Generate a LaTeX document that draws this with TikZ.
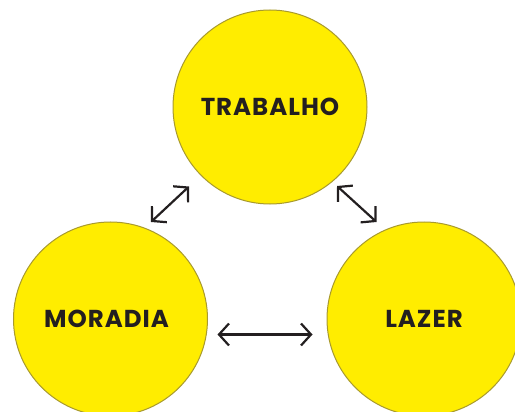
\documentclass[tikz,border=0pt]{standalone}
\usepackage{fontspec}
\setmainfont{Poppins}
\usetikzlibrary{arrows.meta}
\definecolor{circfill}{HTML}{FFED00}
\definecolor{circline}{HTML}{A89A2E}
\definecolor{ink}{HTML}{231F20}
\tikzset{
  topic/.style={circle, fill=circfill, draw=circline, line width=1pt, minimum size=194pt, inner sep=0pt,
    text=ink, font=\fontsize{24.5}{29}\selectfont\bfseries\addfontfeature{LetterSpace=4}},
  link/.style={draw=ink, line width=2.2pt, {Straight Barb[length=10pt,width=22pt]}-{Straight Barb[length=10pt,width=22pt]}}
}
\begin{document}
\begin{tikzpicture}[x=1pt,y=-1pt]
\useasboundingbox (0,0) rectangle (515,412);
\node[topic] (t) at (270,107) {TRABALHO};
\node[topic] (m) at (110.5,319) {\hspace*{-8pt}\raisebox{-3pt}{MORADIA}};
\node[topic] (l) at (424,319) {\raisebox{-3pt}{LAZER}};
\coordinate (a1) at (151,222);
\coordinate (a2) at (189,186.5);
\coordinate (b1) at (337,186);
\coordinate (b2) at (376.5,222);
\coordinate (c1) at (217.5,334.5);
\coordinate (c2) at (312.5,334.5);
\draw[link] (a1) -- (a2);
\draw[link] (b1) -- (b2);
\draw[link] (c1) -- (c2);
\end{tikzpicture}
\end{document}
